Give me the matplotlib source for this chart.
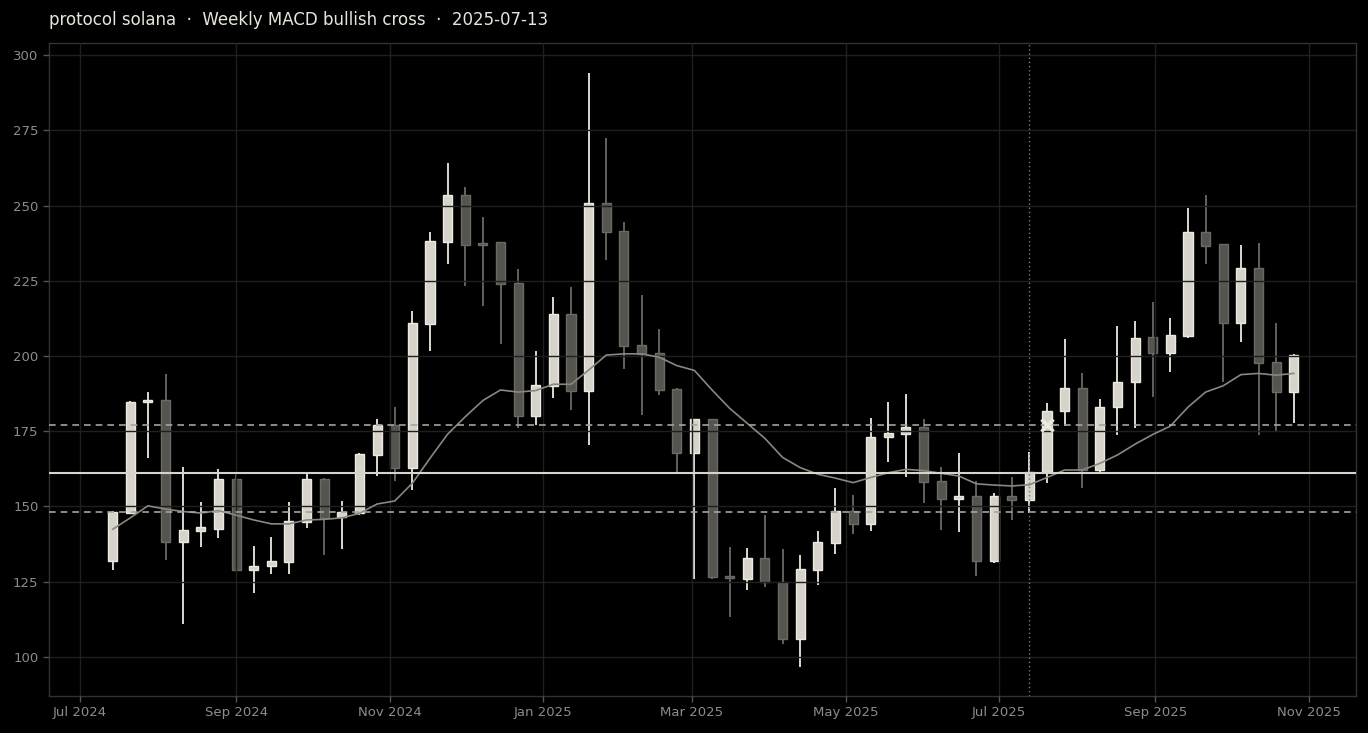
import numpy as np
import pandas as pd
import matplotlib
matplotlib.use("Agg")
import matplotlib.pyplot as plt
import matplotlib.dates as mdates

# ---- data -----------------------------------------------------------------
week_start = "2024-07-14"
n_weeks = 68
dates = pd.date_range(week_start, periods=n_weeks, freq="7D")

opens = [131.8, 147.7, 184.6, 185.2, 138.1, 141.8, 142.6, 159.2, 128.8, 130.1,
         131.5, 144.8, 159.0, 146.4, 147.7, 167.0, 177.0, 162.7, 210.5, 237.9,
         253.4, 237.4, 237.8, 224.1, 180.2, 190.0, 213.8, 188.3, 250.9, 241.4,
         203.5, 200.9, 188.9, 167.9, 178.9, 126.8, 126.0, 133.0, 124.8, 105.9,
         128.9, 137.8, 148.6, 144.1, 173.0, 174.0, 176.3, 158.4, 152.4, 153.3,
         131.7, 153.6, 152.1, 161.6, 181.7, 189.2, 162.1, 183.0, 191.4, 206.2,
         200.9, 206.5, 241.1, 237.1, 210.9, 229.1, 197.9, 188.0]
highs = [148.5, 185.0, 188.1, 193.9, 163.2, 151.6, 162.3, 161.0, 137.0, 140.0,
         151.6, 161.6, 159.3, 151.9, 167.6, 179.0, 183.2, 215.0, 241.3, 264.0,
         256.3, 246.3, 237.9, 228.8, 201.6, 219.5, 223.0, 294.1, 272.3, 244.4,
         220.2, 208.9, 189.2, 179.0, 179.0, 136.4, 136.1, 147.0, 135.8, 133.7,
         141.9, 156.0, 153.9, 179.5, 184.8, 187.2, 179.1, 163.2, 167.9, 158.6,
         154.4, 159.7, 168.2, 184.5, 205.8, 194.5, 185.7, 209.8, 211.6, 217.8,
         212.7, 249.1, 253.4, 237.3, 236.8, 237.4, 211.1, 200.5]
lows = [128.9, 147.5, 166.0, 132.2, 110.9, 136.4, 139.4, 128.5, 121.2, 127.6,
        127.6, 142.7, 133.9, 135.9, 147.0, 160.1, 158.5, 155.5, 201.6, 230.5,
        223.3, 216.6, 203.9, 176.2, 177.0, 186.0, 182.0, 170.5, 231.9, 195.6,
        180.5, 187.0, 161.6, 125.8, 126.0, 113.2, 122.3, 123.2, 104.3, 96.6,
        123.8, 134.2, 140.8, 141.9, 164.8, 159.9, 151.1, 142.2, 141.4, 126.9,
        131.1, 145.5, 147.9, 157.9, 176.7, 156.1, 161.6, 173.8, 175.9, 186.3,
        194.6, 205.9, 230.5, 191.3, 204.6, 173.8, 174.9, 177.6]
closes = [148.1, 184.8, 185.2, 138.1, 142.1, 143.0, 159.2, 128.8, 130.3, 131.8,
          145.0, 159.0, 146.3, 148.1, 167.3, 177.0, 162.7, 210.9, 238.2, 253.4,
          237.0, 236.8, 223.8, 180.2, 190.2, 213.8, 188.5, 250.9, 241.1, 203.2,
          200.8, 188.7, 167.9, 178.9, 126.4, 126.3, 133.0, 124.8, 105.9, 129.1,
          138.1, 148.6, 144.1, 173.2, 174.3, 176.3, 158.0, 152.4, 153.4, 131.7,
          153.6, 152.1, 161.6, 181.8, 189.2, 162.1, 183.1, 191.5, 206.1, 200.9,
          206.9, 241.1, 236.6, 210.9, 229.1, 197.6, 188.0, 200.3]
trend_ma = [142.4, 146.2, 150.2, 149.1, 148.3, 147.8, 148.6, 147.1, 145.5, 144.2,
            144.2, 145.5, 145.7, 146.2, 147.7, 150.8, 151.8, 157.7, 166.0, 174.0,
            179.8, 185.2, 188.7, 188.0, 188.5, 190.6, 190.6, 195.3, 200.3, 200.7,
            200.7, 199.6, 196.8, 195.2, 188.7, 182.6, 177.6, 172.6, 166.3, 162.9,
            160.7, 159.4, 157.9, 159.6, 161.2, 162.3, 161.9, 161.0, 160.1, 157.5,
            157.1, 156.8, 157.2, 159.6, 162.1, 162.1, 164.3, 167.1, 170.7, 173.9,
            176.7, 183.0, 188.0, 190.1, 193.8, 194.2, 193.6, 194.2]

mid_level = 161.1
upper_level = 177.1
lower_level = 148.2
signal_date = "2025-07-13"
cross_date = "2025-07-20"
cross_value = 177.1

title_text = "protocol solana  \u00b7  Weekly MACD bullish cross  \u00b7  2025-07-13"
y_ticks = [100, 125, 150, 175, 200, 225, 250, 275, 300]

# ---- style ----------------------------------------------------------------
BG = "#000000"
UP_FILL, UP_EDGE = "#d6d3cb", "#ece9e1"
DN_FILL, DN_EDGE = "#55544e", "#6b6963"
GRID = "#1f1f1f"
TICK = "#8c8c8c"

fig = plt.figure(figsize=(13.68, 7.33), dpi=100, facecolor=BG)
ax = fig.add_axes([0.0358, 0.0505, 0.9554, 0.8908], facecolor=BG)

o = np.array(opens); h = np.array(highs); l = np.array(lows); c = np.array(closes)
up = c >= o
xd = mdates.date2num(dates.to_pydatetime())
body_w = 3.6

# wicks
ax.vlines(xd[up], l[up], h[up], color=UP_EDGE, linewidth=1.3, zorder=1)
ax.vlines(xd[~up], l[~up], h[~up], color=DN_EDGE, linewidth=1.3, zorder=1)
# bodies
bottoms = np.minimum(o, c)
heights = np.maximum(np.abs(c - o), 0.6)
ax.bar(xd[up], heights[up], bottom=bottoms[up], width=body_w,
       color=UP_FILL, edgecolor=UP_EDGE, linewidth=1.0, zorder=1.5)
ax.bar(xd[~up], heights[~up], bottom=bottoms[~up], width=body_w,
       color=DN_FILL, edgecolor=DN_EDGE, linewidth=1.0, zorder=1.5)

# trend line
ax.plot(xd, trend_ma, color="#8a8780", linewidth=1.2, zorder=3)

# levels
ax.axhline(mid_level, color="#d8d4cc", linewidth=1.5, zorder=3)
ax.axhline(upper_level, color="#a6a39b", linewidth=1.2, linestyle=(0, (4, 3)), zorder=3)
ax.axhline(lower_level, color="#a6a39b", linewidth=1.2, linestyle=(0, (4, 3)), zorder=3)
ax.axvline(mdates.date2num(pd.Timestamp(signal_date)), color="#7a7a7a",
           linewidth=1.0, linestyle=(0, (1, 2)), zorder=3)
ax.plot([mdates.date2num(pd.Timestamp(cross_date))], [cross_value], marker="x",
        markersize=9, markeredgewidth=2.5, color="#ece9e1", zorder=4)

# axes
ax.set_xlim(xd[0] - 25.3, xd[-1] + 24.7)
ax.set_ylim(87.0, 304.0)
ax.set_yticks(y_ticks)
ax.xaxis.set_major_locator(mdates.MonthLocator(bymonth=[1, 3, 5, 7, 9, 11]))
ax.xaxis.set_major_formatter(mdates.DateFormatter("%b %Y"))
ax.set_axisbelow(False)
ax.grid(True, color=GRID, linewidth=1.0, zorder=2.5)
for s in ax.spines.values():
    s.set_color("#333333")
    s.set_linewidth(1.0)
ax.tick_params(colors="#555555", labelcolor=TICK, labelsize=9.5, length=4, width=1)

ax.set_title(title_text, loc="left", color="#e8e4dc", fontsize=12, pad=13)

fig.savefig("out.png", dpi=100, facecolor=BG)
